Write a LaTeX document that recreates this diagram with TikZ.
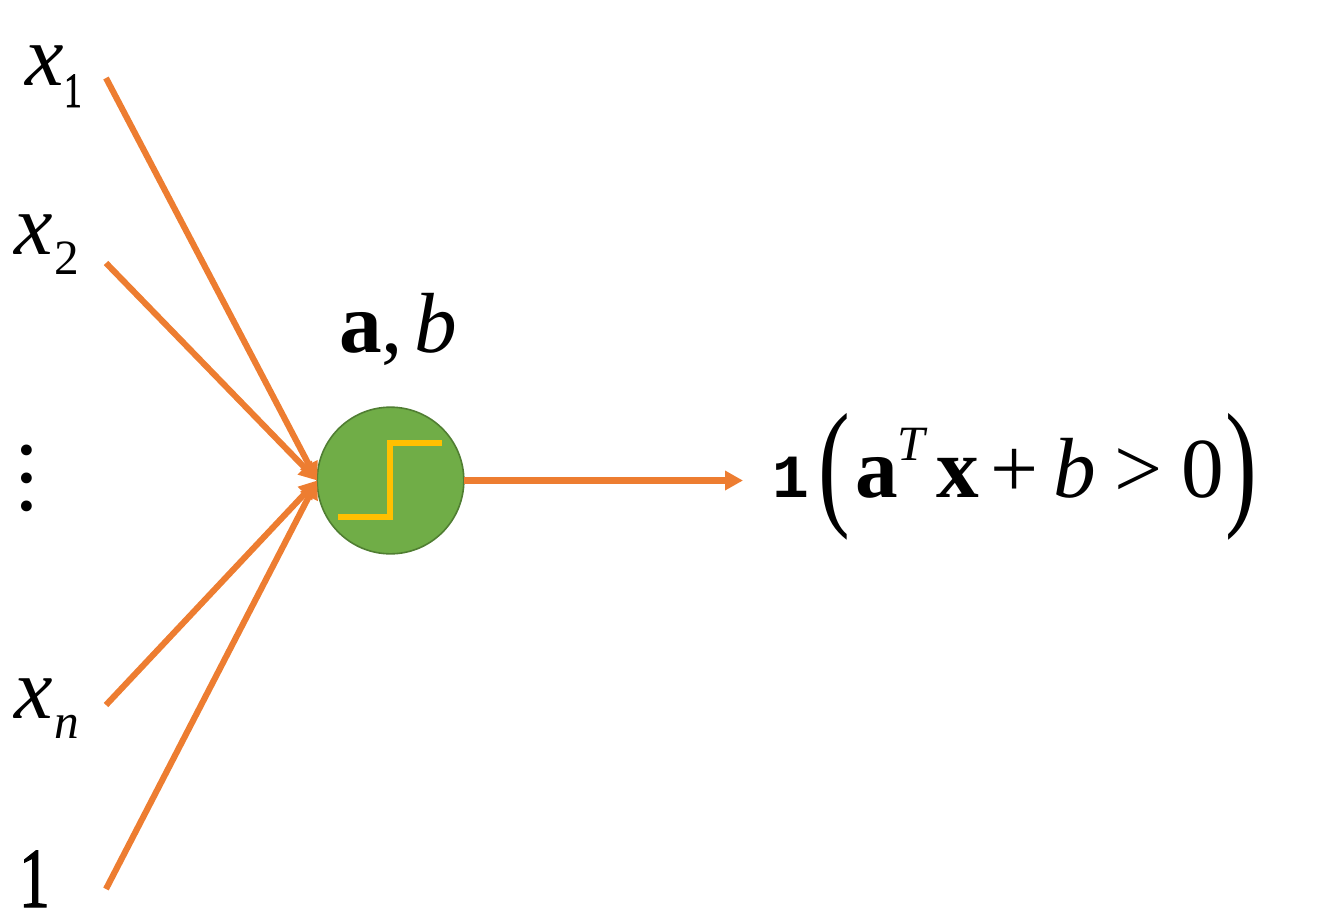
\documentclass[tikz,border=0pt]{standalone}
\usepackage{fontspec}
\usepackage{graphicx}
\setmainfont{Liberation Serif}
\newfontfamily\monob{Liberation Mono}
\newfontfamily\heavyone[FakeBold=1.6]{Liberation Serif}
\usetikzlibrary{arrows.meta}
\definecolor{orangeline}{HTML}{ED7D31}
\definecolor{stepgold}{HTML}{FFC000}
\definecolor{cellgreen}{HTML}{70AD47}
\definecolor{celledge}{HTML}{507E32}
\tikzset{
 x=0.75pt,y=-0.75pt,
 inner sep=0pt,outer sep=0pt,
 wire/.style={orangeline,line width=4.6pt,-{Triangle[length=13.5pt,width=14pt]}},
 lbl/.style={text=black,anchor=base west,font=\fontsize{65}{65}\selectfont\itshape},
 subs/.style={text=black,anchor=base west,font=\fontsize{37}{37}\selectfont},
 big/.style={text=black,anchor=base west,font=\fontsize{64}{64}\selectfont},
 tallparen/.style={text=black,anchor=base west,font=\fontsize{105}{105}\selectfont}
}
\begin{document}
\begin{tikzpicture}
\useasboundingbox (0,0) rectangle (1333,922);
\node[circle,draw=celledge,line width=1.2pt,fill=cellgreen,minimum size=110pt] (cell) at (390.5,480.5) {};
\coordinate (s1) at (106,78);
\coordinate (s2) at (106,263);
\coordinate (s3) at (106,705);
\coordinate (s4) at (106,889);
\coordinate (o) at (743,480.5);
\draw[wire] (s1) -- (cell.west);
\draw[wire] (s2) -- (cell.west);
\draw[wire] (s3) -- (cell.west);
\draw[wire] (s4) -- (cell.west);
\draw[wire] (cell.east) -- (o);
\coordinate (a) at (338,517); \coordinate (b) at (390,517); \coordinate (c) at (390,443); \coordinate (d) at (442,443);
\draw[stepgold,line width=4.5pt] (a) -- (b) -- (c) -- (d);
\node[lbl] (x1) at (26,85) {x};
\node[subs,font=\fontsize{37}{37}\heavyone] (x1s) at (64,107) {\scalebox{.72}[1]{1}};
\node[lbl] (x2) at (14,254) {x};
\node[subs] (x2s) at (54,274) {2};
\node[lbl] (xn) at (14,718) {x};
\node[subs,font=\fontsize{37}{37}\selectfont\itshape] (xns) at (54,738) {n};
\node[big,font=\fontsize{64}{64}\heavyone] (one) at (19,907) {\scalebox{.72}[1]{1}};
\node[anchor=south] (dots) at (27,512) {\scalebox{5.25}{\fontsize{13}{13}\selectfont$\vdots$}};
\node[big] (ab) at (339,352) {\textbf{a},};
\node[big] (ab2) at (414,352) {\textit{b}};
\node[big,font=\fontsize{46}{46}\selectfont\monob\bfseries] (e1) at (772,497) {1};
\node[tallparen] (lp) at (818,510.5) {\scalebox{.68}[1]{(}};
\node[big] (ea) at (855,497) {\textbf{a}};
\node[subs,font=\fontsize{37}{37}\selectfont\itshape] (et) at (897,460) {T};
\node[big] (ex) at (936,497) {\textbf{x}};
\node[big] (ep) at (990,497) {+};
\node[big] (eb) at (1053,497) {\textit{b}};
\node[big] (eg) at (1114,497) {>};
\node[big] (e0) at (1181,497) {0};
\node[tallparen] (rp) at (1225,510.5) {\scalebox{.68}[1]{)}};
\end{tikzpicture}
\end{document}
